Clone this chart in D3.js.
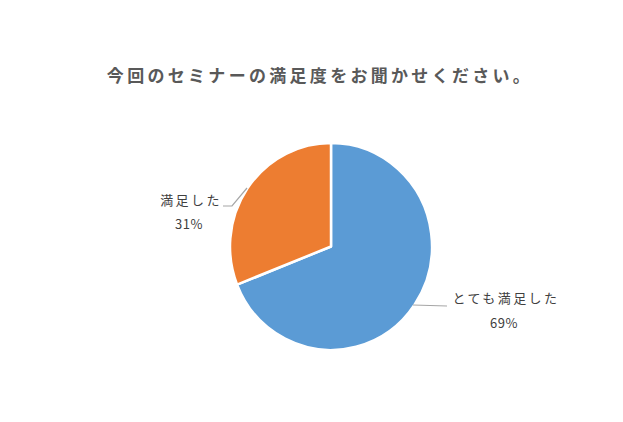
<!DOCTYPE html>
<html>
<head>
<meta charset="utf-8">
<script src="https://cdn.jsdelivr.net/npm/d3@7"></script>
<style>
  html, body { margin: 0; padding: 0; background: #fff; }
  svg { display: block; font-family: "Noto Sans CJK JP", sans-serif; }
</style>
</head>
<body>
<svg id="chart" width="623" height="422"></svg>
<script>
const title = "今回のセミナーの満足度をお聞かせください。";
const categories = ["とても満足した", "満足した"];
const values = [69, 31];
const colors = ["#5B9BD5", "#ED7D31"];

const svg = d3.select("#chart");
const cx = 331, cy = 246.5, r = 101;

svg.append("text")
  .attr("x", 320).attr("y", 82)
  .attr("text-anchor", "middle")
  .attr("font-size", 17).attr("font-weight", "bold")
  .attr("letter-spacing", 3.3)
  .attr("fill", "#595959")
  .text(title);

const pie = d3.pie().sort(null).value((d) => d)(values);
const arc = d3.arc().innerRadius(0).outerRadius(r);

const g = svg.append("g").attr("transform", `translate(${cx},${cy}) scale(1,1.025)`);
g.selectAll("path").data(pie).join("path")
  .attr("d", arc)
  .attr("fill", (d, i) => colors[i])
  .attr("stroke", "#fff").attr("stroke-width", 2.5)
  .attr("stroke-linejoin", "round");

// leader lines and labels
const labels = [
  { line: [[413, 305], [447, 306]], x: 506, y1: 303, y2: 328 },
  { line: [[247, 188], [232, 206], [223, 206]], x: 191, y1: 205, y2: 229 },
];
const lineGen = d3.line();
labels.forEach((l, i) => {
  svg.append("path").attr("d", lineGen(l.line))
    .attr("fill", "none").attr("stroke", "#a6a6a6").attr("stroke-width", 1.2);
  svg.append("text").attr("x", l.x).attr("y", l.y1)
    .attr("text-anchor", "middle").attr("font-size", 13)
    .attr("letter-spacing", 2.4).attr("fill", "#404040")
    .text(categories[i]);
  svg.append("text").attr("x", l.x - 2).attr("y", l.y2)
    .attr("text-anchor", "middle").attr("font-size", 13)
    .attr("letter-spacing", 0.5).attr("fill", "#404040")
    .text(`${values[i]}%`);
});
</script>
</body>
</html>
